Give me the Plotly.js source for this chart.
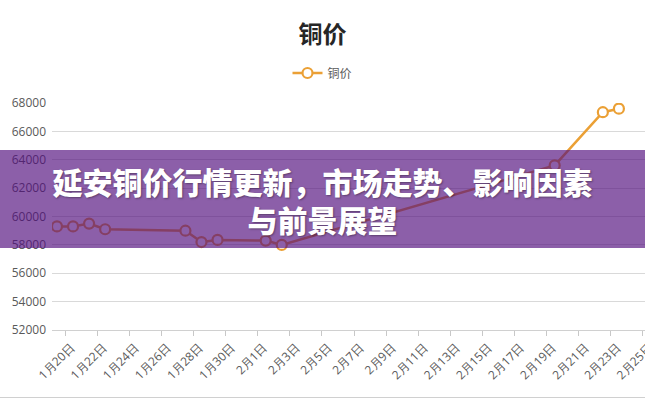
<!DOCTYPE html>
<html>
<head>
<meta charset="utf-8">
<script src="https://cdn.plot.ly/plotly-3.0.1.min.js"></script>
<style>
  html, body { margin: 0; padding: 0; background: #fff; }
  #wrap { position: relative; width: 645px; height: 400px; overflow: hidden; }
  #chart { position: absolute; left: 0; top: 0; width: 645px; height: 400px; }
  #banner {
    position: absolute; left: 0; top: 150px; width: 645px; height: 98px;
    background: rgba(80, 12, 125, 0.66);
    color: #fff; text-align: center;
    font-family: "Noto Sans CJK SC", sans-serif; font-weight: 900;
    font-size: 30px; line-height: 38px; padding-top: 12px; box-sizing: border-box;
    text-shadow: 1px 1px 2px rgba(0,0,0,0.35);
  }
  #frame { position: absolute; left: 0; top: 397px; width: 645px; height: 1px; background: #d0d0d0; }
</style>
</head>
<body>
<div id="wrap">
  <div id="chart"></div>
  <div id="banner">延安铜价行情更新，市场走势、影响因素<br>与前景展望</div>
  <div id="frame"></div>
</div>
<script>
// ---- data ----
const seriesName = "铜价";
const dates = ["2024-01-20","2024-01-21","2024-01-22","2024-01-23","2024-01-28","2024-01-29","2024-01-30","2024-02-02","2024-02-03","2024-02-20","2024-02-23","2024-02-24"];
const prices = [59300, 59300, 59500, 59100, 59000, 58200, 58350, 58300, 58000, 63600, 67350, 67600];
const tickDates = ["2024-01-20","2024-01-22","2024-01-24","2024-01-26","2024-01-28","2024-01-30","2024-02-01","2024-02-03","2024-02-05","2024-02-07","2024-02-09","2024-02-11","2024-02-13","2024-02-15","2024-02-17","2024-02-19","2024-02-21","2024-02-23","2024-02-25"];
const tickLabels = ["1月20日","1月22日","1月24日","1月26日","1月28日","1月30日","2月1日","2月3日","2月5日","2月7日","2月9日","2月11日","2月13日","2月15日","2月17日","2月19日","2月21日","2月23日","2月25日"];
const yTicks = [52000, 54000, 56000, 58000, 60000, 62000, 64000, 66000, 68000];

const orange = "#EBA035";
const trace = {
  x: dates, y: prices, name: seriesName, type: "scatter", mode: "lines+markers",
  line: { color: orange, width: 2.5 },
  marker: { symbol: "circle", size: 10, color: "#fff", line: { color: orange, width: 2.2 } },
  showlegend: true
};

const layout = {
  width: 645, height: 400,
  margin: { l: 52, r: 0, t: 103, b: 70 },
  paper_bgcolor: "#fff", plot_bgcolor: "#fff",
  font: { family: "Open Sans, sans-serif", color: "#595959" },
  title: {
    text: "铜价", x: 0.5, xanchor: "center", y: 1 - 35/400, yanchor: "middle",
    font: { family: "Noto Sans CJK SC", size: 24, color: "#262626", weight: 700 }
  },
  showlegend: true,
  legend: {
    orientation: "h", xref: "container", x: 0.5, xanchor: "center",
    yref: "container", y: 1 - 73/400, yanchor: "middle",
    font: { family: "Noto Sans CJK SC", size: 12, color: "#595959" }
  },
  xaxis: {
    type: "date",
    range: ["2024-01-19 16:34", "2024-02-25 15:00"],
    tickmode: "array",
    tickvals: tickDates.map(d => d + " 12:00"),
    ticktext: tickLabels,
    tickangle: -45,
    ticklabelshift: 6,
    ticklabeloverflow: "allow",
    tickfont: { family: "Open Sans", size: 12, color: "#595959" },
    ticks: "outside", ticklen: 5, tickcolor: "#c8c8c8",
    showline: true, linecolor: "#d0d0d0", linewidth: 1,
    showgrid: false, zeroline: false, automargin: false, fixedrange: true
  },
  yaxis: {
    range: [52000, 68000],
    tickmode: "array", tickvals: yTicks, ticktext: yTicks.map(v => String(v)),
    tickfont: { family: "Open Sans", size: 12, color: "#595959" },
    showgrid: true, gridcolor: "#d9d9d9", gridwidth: 1,
    zeroline: false, showline: false, ticks: "", ticklabelstandoff: 5,
    automargin: false, fixedrange: true
  }
};

Plotly.newPlot("chart", [trace], layout, { staticPlot: true, displayModeBar: false });
</script>
</body>
</html>
